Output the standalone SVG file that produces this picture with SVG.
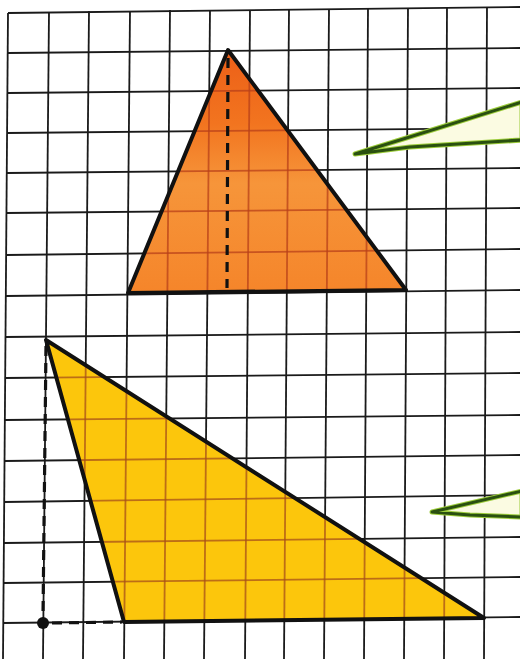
<svg xmlns="http://www.w3.org/2000/svg" xmlns:xlink="http://www.w3.org/1999/xlink" width="520" height="659" viewBox="0 0 520 659">
<style>
.outline{fill:none;stroke:#111;stroke-width:4;stroke-linejoin:round;stroke-linecap:round}
.dash{fill:none;stroke:#111;stroke-width:3.2;stroke-dasharray:10 7}
.arrowL{fill:#fbfbe2;stroke:#9ccc3a;stroke-width:5;stroke-linejoin:round}
.arrowD{fill:none;stroke:#2a5010;stroke-width:3;stroke-linejoin:round}
</style>
<defs>
<linearGradient id="gOrange" x1="0" y1="50" x2="0" y2="293" gradientUnits="userSpaceOnUse">
<stop offset="0" stop-color="#ec5f18"/>
<stop offset="0.3" stop-color="#f2741f"/>
<stop offset="0.55" stop-color="#f6953a"/>
<stop offset="1" stop-color="#f5852a"/>
</linearGradient>
<clipPath id="clipOrange"><polygon points="228,50 406,290 128,293"/></clipPath>
<clipPath id="clipYellow"><polygon points="46,340 484,618 124,622"/></clipPath>
<g id="gridlines" fill="none" stroke-width="1.8">
<line x1="8" y1="13" x2="3" y2="659"/>
<line x1="49" y1="12" x2="43" y2="659"/>
<line x1="89" y1="11" x2="83" y2="659"/>
<line x1="130" y1="11" x2="124" y2="659"/>
<line x1="170" y1="10" x2="164" y2="659"/>
<line x1="210" y1="10" x2="204" y2="659"/>
<line x1="250" y1="10" x2="245" y2="659"/>
<line x1="289" y1="9" x2="284" y2="659"/>
<line x1="329" y1="9" x2="324" y2="659"/>
<line x1="368" y1="8" x2="364" y2="659"/>
<line x1="408" y1="8" x2="404" y2="659"/>
<line x1="447" y1="7" x2="444" y2="659"/>
<line x1="487" y1="7" x2="484" y2="659"/>
<line x1="8" y1="13" x2="520" y2="7"/>
<line x1="8" y1="53" x2="520" y2="48"/>
<line x1="8" y1="93" x2="520" y2="88"/>
<line x1="7" y1="133" x2="520" y2="128"/>
<line x1="7" y1="173" x2="520" y2="168"/>
<line x1="6" y1="213" x2="520" y2="208"/>
<line x1="6" y1="255" x2="520" y2="249"/>
<line x1="6" y1="296" x2="520" y2="290"/>
<line x1="5" y1="337" x2="520" y2="332"/>
<line x1="5" y1="378" x2="520" y2="373"/>
<line x1="5" y1="420" x2="520" y2="415"/>
<line x1="4" y1="461" x2="520" y2="455"/>
<line x1="4" y1="502" x2="520" y2="495"/>
<line x1="4" y1="543" x2="520" y2="537"/>
<line x1="3" y1="583" x2="520" y2="577"/>
<line x1="3" y1="623" x2="520" y2="617"/>
</g>
</defs>
<rect width="520" height="659" fill="#ffffff"/>
<g id="grid">
<use xlink:href="#gridlines" stroke="#1a1a1a"/>
</g>
<g id="orange-triangle">
<polygon points="228,50 406,290 128,293" fill="url(#gOrange)"/>
<use xlink:href="#gridlines" stroke="#b8401a" stroke-opacity="0.75" clip-path="url(#clipOrange)"/>
<line class="dash" x1="228" y1="58" x2="227" y2="288"/>
<polygon class="outline" points="228,50 406,290 128,293"/>
</g>
<g id="yellow-triangle">
<polygon points="46,340 484,618 124,622" fill="#fcc60c"/>
<use xlink:href="#gridlines" stroke="#a8501a" stroke-opacity="0.75" clip-path="url(#clipYellow)"/>
<line class="dash" x1="46" y1="346" x2="43" y2="616"/>
<line class="dash" x1="52" y1="623" x2="122" y2="622"/>
<circle cx="43" cy="623" r="6" fill="#111"/>
<polygon class="outline" points="46,340 484,618 124,622"/>
</g>
<g id="green-top">
<polygon class="arrowL" points="355,154 522,102 522,140 410,147"/>
<polygon class="arrowD" points="355,154 522,102 522,140 410,147"/>
</g>
<g id="green-bottom">
<polygon class="arrowL" points="432,512 522,491 522,517 470,515"/>
<polygon class="arrowD" points="432,512 522,491 522,517 470,515"/>
</g>
</svg>
